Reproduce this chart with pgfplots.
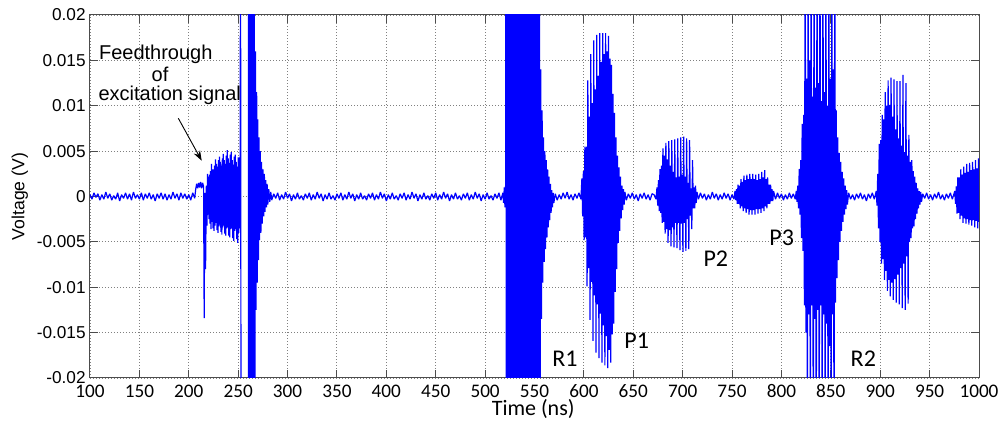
\documentclass[border=0pt]{standalone}
\usepackage{pgfplots}
\pgfplotsset{compat=1.18}
\usepackage{fontspec}
\setmainfont{Liberation Sans}
\newfontfamily\calfont{Carlito}
\usetikzlibrary{arrows.meta}
\begin{document}
\begin{tikzpicture}
\begin{axis}[
  width=444.5pt, height=181.5pt, scale only axis,
  xmin=100, xmax=1000, ymin=-0.02, ymax=0.02,
  scaled y ticks=false, scaled x ticks=false,
  xtick={100,150,...,1000},
  xticklabels={100,150,200,250,300,350,400,450,500,550,600,650,700,750,800,850,900,950,1000},
  ytick={-0.02,-0.015,-0.01,-0.005,0,0.005,0.01,0.015,0.02},
  yticklabels={-0.02,-0.015,-0.01,-0.005,0,0.005,0.01,0.015,0.02},
  xticklabel style={font=\calfont\fontsize{9.6}{10}\selectfont, inner sep=0pt, yshift=-3.2pt},
  yticklabel style={font=\fontsize{8.6}{10}\selectfont, inner sep=0pt, xshift=-2pt},
  grid=major, grid style={dash pattern=on 0.5pt off 1pt, black!50, line width=0.45pt},
  axis line style={black!70, line width=0.5pt},
  tick align=inside, tick pos=both, major tick length=4pt,
  tick style={black!70, line width=0.5pt},
  xlabel={Time (ns)},
  xlabel style={font=\calfont\fontsize{11}{12}\selectfont, at={(axis description cs:0.4985,0)}, anchor=center, yshift=-15.7pt, inner sep=0pt},
  ylabel={Voltage (V)},
  ylabel style={font=\fontsize{8.8}{10}\selectfont, at={(axis description cs:-0.079,0.5)}, anchor=center, inner sep=0pt},
]
\coordinate (sw) at (rel axis cs:0,0);
\coordinate (ne) at (rel axis cs:1,1);
\addplot[color={rgb,255:red,0;green,0;blue,255}, line width=0.6pt, line join=bevel, mark=none] table[x=t,y=v] {
t v
100 0.0002
102 -0.0003
104 0.0004
106 -0.0001
108 0.0003
110 -0.0004
112 0.0002
114 -0.0003
116 0.0005
118 -0.0002
120 0.0003
122 -0.0004
124 0.0001
126 -0.0003
128 0.0004
130 -0.0005
132 0.0002
134 -0.0002
136 0.0004
138 -0.0003
140 0.0003
142 -0.0004
144 0.0005
146 -0.0002
148 0.0002
150 -0.0003
152 0.0004
154 -0.0004
156 0.0003
158 -0.0002
160 0.0004
162 -0.0003
164 0.0002
166 -0.0005
168 0.0003
170 -0.0002
172 0.0004
174 -0.0003
176 0.0003
178 -0.0004
180 0.0002
182 -0.0003
184 0.0005
186 -0.0002
188 0.0003
190 -0.0004
192 0.0004
194 -0.0002
196 0.0003
198 -0.0003
200 0.0002
202 -0.0004
204 0.0004
206 -0.0002
207 0.0008
208 0.0014
209 0.0009
210 0.0015
211 0.0010
212 0.0016
213 0.0009
214 0.0015
215 0.0011
215.6 -0.0134
216.2 0.0004
217 -0.0080
217.8 0.0012
218.5 -0.0032
219 0.0025
219.5 -0.0020
220 0.0022
220.5 -0.0025
221 0.0024
221.5 -0.0030
222 0.0028
222.5 -0.0036
223 0.0036
223.5 -0.0028
224 0.0030
224.5 -0.0035
225 0.0030
225.5 -0.0038
226 0.0034
226.5 -0.0032
227 0.0041
227.5 -0.0029
228 0.0036
228.5 -0.0037
229 0.0033
229.5 -0.0040
230 0.0040
230.5 -0.0033
231 0.0044
231.5 -0.0031
232 0.0038
232.5 -0.0039
233 0.0034
233.5 -0.0042
234 0.0042
234.5 -0.0034
235 0.0047
235.5 -0.0032
236 0.0040
236.5 -0.0041
237 0.0036
237.5 -0.0043
238 0.0045
238.5 -0.0035
239 0.0051
239.5 -0.0034
240 0.0042
240.5 -0.0043
241 0.0037
241.5 -0.0045
242 0.0046
242.5 -0.0036
243 0.0049
243.5 -0.0035
244 0.0040
244.5 -0.0046
245 0.0035
245.5 -0.0049
246 0.0044
246.5 -0.0038
247 0.0046
247.5 -0.0036
248 0.0038
248.5 -0.0047
249 0.0033
249.5 -0.0051
250 0.0043
250.5 -0.0040
251 0.0043
251.5 -0.0035
252 0.0040
252.4 0.0300
252.9 -0.0300
260.3 -0.0300
260.6 0.0300
261.3 -0.0300
262.0 0.0300
262.7 -0.0300
263.4 0.0300
264.1 -0.0300
264.8 0.0300
265.5 -0.0300
266.2 0.0300
266.9 -0.0300
267.5 0.0160
268.1 -0.0125
268.7 0.0115
269.3 -0.0095
269.9 0.0085
270.5 -0.0070
271.1 0.0065
271.7 -0.0048
272.3 0.0050
273.0 -0.0040
273.7 0.0038
274.4 -0.0030
275.1 0.0030
275.8 -0.0022
276.5 0.0025
277.2 -0.0017
277.9 0.0018
278.6 -0.0012
279.3 0.0014
280.0 -0.0009
281 0.0008
282 -0.0006
283 0.0005
284 -0.0004
286 0.0003
288 -0.0002
290 0.0004
292 -0.0004
294 0.0002
296 -0.0003
298 0.0005
300 -0.0002
302 0.0003
304 -0.0005
306 0.0002
308 -0.0003
310 0.0004
312 -0.0003
314 0.0001
316 -0.0004
318 0.0003
320 -0.0002
322 0.0004
324 -0.0004
326 0.0002
328 -0.0003
330 0.0005
332 -0.0002
334 0.0003
336 -0.0005
338 0.0002
340 -0.0003
342 0.0004
344 -0.0003
346 0.0001
348 -0.0004
350 0.0003
352 -0.0002
354 0.0004
356 -0.0004
358 0.0002
360 -0.0003
362 0.0005
364 -0.0002
366 0.0003
368 -0.0005
370 0.0002
372 -0.0003
374 0.0004
376 -0.0003
378 0.0001
380 -0.0004
382 0.0003
384 -0.0002
386 0.0004
388 -0.0004
390 0.0002
392 -0.0003
394 0.0005
396 -0.0002
398 0.0003
400 -0.0005
402 0.0002
404 -0.0003
406 0.0004
408 -0.0003
410 0.0001
412 -0.0004
414 0.0003
416 -0.0002
418 0.0004
420 -0.0004
422 0.0002
424 -0.0003
426 0.0005
428 -0.0002
430 0.0003
432 -0.0005
434 0.0002
436 -0.0003
438 0.0004
440 -0.0003
442 0.0001
444 -0.0004
446 0.0003
448 -0.0002
450 0.0004
452 -0.0004
454 0.0002
456 -0.0003
458 0.0005
460 -0.0002
462 0.0003
464 -0.0005
466 0.0002
468 -0.0003
470 0.0004
472 -0.0003
474 0.0001
476 -0.0004
478 0.0003
480 -0.0002
482 0.0004
484 -0.0004
486 0.0002
488 -0.0003
490 0.0005
492 -0.0002
494 0.0003
496 -0.0005
498 0.0002
500 -0.0003
502 0.0004
504 -0.0003
506 0.0001
508 -0.0004
510 0.0003
512 -0.0002
514 0.0004
516 -0.0004
518 0.0004
518.7 -0.0007
519.4 0.0010
520.1 -0.0012
520.8 0.0014
521.0 0.03
521.5 -0.03
522.0 0.03
522.5 -0.03
523.0 0.03
523.5 -0.03
524.0 0.03
524.5 -0.03
525.0 0.03
525.5 -0.03
526.0 0.03
526.5 -0.03
527.0 0.03
527.5 -0.03
528.0 0.03
528.5 -0.03
529.0 0.03
529.5 -0.03
530.0 0.03
530.5 -0.03
531.0 0.03
531.5 -0.03
532.0 0.03
532.5 -0.03
533.0 0.03
533.5 -0.03
534.0 0.03
534.5 -0.03
535.0 0.03
535.5 -0.03
536.0 0.03
536.5 -0.03
537.0 0.03
537.5 -0.03
538.0 0.03
538.5 -0.03
539.0 0.03
539.5 -0.03
540.0 0.03
540.5 -0.03
541.0 0.03
541.5 -0.03
542.0 0.03
542.5 -0.03
543.0 0.03
543.5 -0.03
544.0 0.03
544.5 -0.03
545.0 0.03
545.5 -0.03
546.0 0.03
546.5 -0.03
547.0 0.03
547.5 -0.03
548.0 0.03
548.5 -0.03
549.0 0.03
549.5 -0.03
550.0 0.03
550.5 -0.03
551.0 0.03
551.5 -0.03
552.0 0.03
552.5 -0.03
553.0 0.03
553.5 -0.03
554.0 0.03
554.5 -0.03
555.0 0.03
555.6 -0.03
556.3 0.0140
557.0 -0.0135
557.7 0.0095
558.4 -0.0095
559.1 0.0065
559.8 -0.0072
560.5 0.0050
561.2 -0.0058
561.9 0.0040
562.6 -0.0045
563.3 0.0030
564.0 -0.0034
564.7 0.0022
565.4 -0.0026
566.1 0.0014
566.8 -0.0018
567.5 0.0007
568.2 -0.0012
568.9 0.0004
569.6 -0.0007
571 0.0003
573 -0.0004
575 0.0002
577 -0.0003
579 0.0004
581 -0.0002
583 0.0005
585 -0.0003
587 0.0002
589 -0.0004
591 0.0003
593 -0.0002
595 0.0004
597 -0.0003
598.00 0.0020
598.75 -0.0022
599.50 0.0028
600.25 -0.0048
601.00 0.0055
601.75 -0.0045
602.50 0.0055
603.25 -0.0099
604.00 0.0128
604.75 -0.0079
605.50 0.0088
606.25 -0.0136
607.00 0.0157
607.75 -0.0094
608.50 0.0103
609.25 -0.0159
610.00 0.0172
610.75 -0.0109
611.50 0.0118
612.25 -0.0172
613.00 0.0178
613.75 -0.0119
614.50 0.0133
615.25 -0.0178
616.00 0.0180
616.75 -0.0129
617.50 0.0148
618.25 -0.0183
619.00 0.0180
619.75 -0.0142
620.50 0.0157
621.25 -0.0186
622.00 0.0180
622.75 -0.0154
623.50 0.0160
624.25 -0.0189
625.00 0.0177
625.75 -0.0169
626.50 0.0152
627.25 -0.0183
628.00 0.0145
628.75 -0.0152
629.50 0.0113
630.25 -0.0140
631.00 0.0092
631.75 -0.0105
632.50 0.0065
633.25 -0.0080
634.00 0.0045
634.75 -0.0051
635.50 0.0032
636.25 -0.0038
637.00 0.0022
637.75 -0.0024
638.50 0.0012
639.25 -0.0015
640.00 0.0008
640.75 -0.0009
641.50 0.0005
643 -0.0004
645 0.0003
647 -0.0002
649 0.0004
651 -0.0003
653 0.0002
655 -0.0005
657 0.0003
659 -0.0002
661 0.0004
663 -0.0003
665 0.0002
667 -0.0004
669 0.0003
671 0.0002
673 -0.0003
674.00 0.0010
674.75 -0.0010
675.50 0.0018
676.25 -0.0016
677.00 0.0030
677.75 -0.0018
678.50 0.0034
679.25 -0.0029
680.00 0.0053
680.75 -0.0028
681.50 0.0045
682.25 -0.0041
683.00 0.0059
683.75 -0.0036
684.50 0.0041
685.25 -0.0051
686.00 0.0061
686.75 -0.0037
687.50 0.0034
688.25 -0.0055
689.00 0.0062
689.75 -0.0034
690.50 0.0027
691.25 -0.0056
692.00 0.0063
692.75 -0.0029
693.50 0.0021
694.25 -0.0057
695.00 0.0064
695.75 -0.0029
696.50 0.0022
697.25 -0.0059
698.00 0.0065
698.75 -0.0030
699.50 0.0024
700.25 -0.0061
701.00 0.0066
701.75 -0.0029
702.50 0.0022
703.25 -0.0060
704.00 0.0064
704.75 -0.0025
705.50 0.0015
706.25 -0.0058
707.00 0.0062
707.75 -0.0021
708.50 0.0009
709.25 -0.0036
710.00 0.0040
710.75 -0.0013
711.50 0.0010
712.25 -0.0013
713.00 0.0012
713.75 -0.0007
714.50 0.0005
716 -0.0003
718 0.0004
720 -0.0002
722 0.0003
724 -0.0004
726 0.0002
728 -0.0003
730 0.0005
732 -0.0002
734 0.0003
736 -0.0004
738 0.0002
740 -0.0003
742 0.0004
744 -0.0002
746 0.0003
748 -0.0004
750 0.0002
752 -0.0003
753.00 0.0006
753.75 -0.0004
754.50 0.0008
755.25 -0.0008
756.00 0.0013
756.75 -0.0008
757.50 0.0012
758.25 -0.0013
759.00 0.0019
759.75 -0.0011
760.50 0.0016
761.25 -0.0016
762.00 0.0023
762.75 -0.0013
763.50 0.0018
764.25 -0.0018
765.00 0.0024
765.75 -0.0014
766.50 0.0019
767.25 -0.0020
768.00 0.0025
768.75 -0.0015
769.50 0.0019
770.25 -0.0020
771.00 0.0025
771.75 -0.0015
772.50 0.0019
773.25 -0.0020
774.00 0.0024
774.75 -0.0014
775.50 0.0018
776.25 -0.0019
777.00 0.0025
777.75 -0.0014
778.50 0.0019
779.25 -0.0018
780.00 0.0027
780.75 -0.0013
781.50 0.0021
782.25 -0.0016
783.00 0.0029
783.75 -0.0011
784.50 0.0019
785.25 -0.0013
786.00 0.0021
786.75 -0.0008
787.50 0.0013
788.25 -0.0008
789.00 0.0013
789.75 -0.0005
790.50 0.0008
791.25 -0.0005
792.00 0.0006
794 -0.0003
796 0.0004
798 -0.0002
800 0.0003
802 -0.0004
804 0.0002
806 -0.0003
808 0.0004
810 -0.0002
812 0.0003
814 -0.0003
815.00 0.0006
815.75 -0.0006
816.50 0.0012
817.25 -0.0013
818.00 0.0030
818.75 -0.0020
819.50 0.0040
820.25 -0.0046
821.00 0.0080
821.75 -0.0060
822.50 0.0090
823.25 -0.0120
824.00 0.0300
824.75 -0.0150
825.50 0.0130
826.25 -0.0300
827.00 0.0300
827.75 -0.0130
828.50 0.0150
829.25 -0.0300
830.00 0.0300
830.75 -0.0120
831.50 0.0110
832.25 -0.0300
833.00 0.0300
833.75 -0.0135
834.50 0.0120
835.25 -0.0300
836.00 0.0300
836.75 -0.0125
837.50 0.0125
838.25 -0.0300
839.00 0.0300
839.75 -0.0120
840.50 0.0105
841.25 -0.0300
842.00 0.0300
842.75 -0.0130
843.50 0.0115
844.25 -0.0300
845.00 0.0300
845.75 -0.0140
846.50 0.0100
847.25 -0.0300
848.00 0.0300
848.75 -0.0165
849.50 0.0130
850.25 -0.0300
851.00 0.0300
851.75 -0.0130
852.50 0.0140
853.25 -0.0300
854.00 0.0300
854.75 -0.0117
855.50 0.0095
856.25 -0.0090
857.00 0.0065
857.75 -0.0070
858.50 0.0048
859.25 -0.0050
860.00 0.0038
860.75 -0.0038
861.50 0.0027
862.25 -0.0028
863.00 0.0020
863.75 -0.0020
864.50 0.0012
865.25 -0.0014
866.00 0.0007
866.75 -0.0009
868 0.0004
870 -0.0003
872 0.0002
874 -0.0004
876 0.0003
878 -0.0002
880 0.0004
882 -0.0003
884 0.0002
886 -0.0005
888 0.0003
890 -0.0002
892 0.0004
894 -0.0003
896.00 0.0006
896.75 -0.0010
897.50 0.0025
898.25 -0.0035
899.00 0.0058
899.75 -0.0050
900.50 0.0062
901.25 -0.0074
902.00 0.0090
902.75 -0.0069
903.50 0.0085
904.25 -0.0092
905.00 0.0115
905.75 -0.0082
906.50 0.0100
907.25 -0.0104
908.00 0.0128
908.75 -0.0092
909.50 0.0101
910.25 -0.0110
911.00 0.0131
911.75 -0.0095
912.50 0.0088
913.25 -0.0114
914.00 0.0129
914.75 -0.0091
915.50 0.0074
916.25 -0.0117
917.00 0.0127
917.75 -0.0086
918.50 0.0064
919.25 -0.0119
920.00 0.0127
920.75 -0.0079
921.50 0.0056
922.25 -0.0123
923.00 0.0134
923.75 -0.0074
924.50 0.0049
925.25 -0.0125
926.00 0.0125
926.75 -0.0066
927.50 0.0045
928.25 -0.0118
929.00 0.0068
929.75 -0.0050
930.50 0.0038
931.25 -0.0046
932.00 0.0040
932.75 -0.0035
933.50 0.0028
934.25 -0.0033
935.00 0.0022
935.75 -0.0025
936.50 0.0015
937.25 -0.0019
938.00 0.0009
938.75 -0.0013
939.50 0.0006
940.25 -0.0009
941.00 0.0005
941.75 -0.0006
943 0.0003
945 -0.0002
947 0.0004
949 -0.0003
951 0.0002
953 -0.0004
955 0.0003
957 -0.0002
959 0.0005
961 -0.0003
963 0.0002
965 -0.0004
967 0.0003
969 -0.0002
971 0.0004
973 -0.0003
975.50 0.0006
976.25 -0.0008
977.00 0.0011
977.75 -0.0019
978.50 0.0021
979.25 -0.0018
980.00 0.0021
980.75 -0.0025
981.50 0.0030
982.25 -0.0021
983.00 0.0024
983.75 -0.0029
984.50 0.0033
985.25 -0.0024
986.00 0.0026
986.75 -0.0030
987.50 0.0036
988.25 -0.0025
989.00 0.0027
989.75 -0.0031
990.50 0.0037
991.25 -0.0026
992.00 0.0029
992.75 -0.0032
993.50 0.0038
994.25 -0.0026
995.00 0.0030
995.75 -0.0034
996.50 0.0040
997.25 -0.0027
998.00 0.0031
998.75 -0.0035
999.50 0.0042
1000.00 -0.0028
};
\draw[-{Stealth[length=5pt,width=3.5pt]}, black, line width=0.45pt] (axis cs:189.4,0.00862) -- (axis cs:213.1,0.00394);
\node[inner sep=0pt, font=\fontsize{10}{12}\selectfont] at (axis cs:166.6,0.01568) {Feedthrough};
\node[inner sep=0pt, font=\fontsize{10}{12}\selectfont] at (axis cs:170.9,0.01348) {of};
\node[inner sep=0pt, font=\fontsize{10}{12}\selectfont] at (axis cs:180.7,0.0111) {excitation signal};
\node[inner sep=0pt, font=\calfont\fontsize{12}{14}\selectfont] at (axis cs:580.9,-0.01793) {R1};
\node[inner sep=0pt, font=\calfont\fontsize{12}{14}\selectfont] at (axis cs:653.5,-0.0159) {P1};
\node[inner sep=0pt, font=\calfont\fontsize{12}{14}\selectfont] at (axis cs:733.6,-0.00691) {P2};
\node[inner sep=0pt, font=\calfont\fontsize{12}{14}\selectfont] at (axis cs:800.2,-0.0046) {P3};
\node[inner sep=0pt, font=\calfont\fontsize{12}{14}\selectfont] at (axis cs:882.9,-0.01793) {R2};
\end{axis}
\pgfresetboundingbox
\path ([shift={(-45pt,-22.5pt)}]sw) rectangle ([shift={(12.5pt,7.5pt)}]ne);
\end{tikzpicture}
\end{document}
